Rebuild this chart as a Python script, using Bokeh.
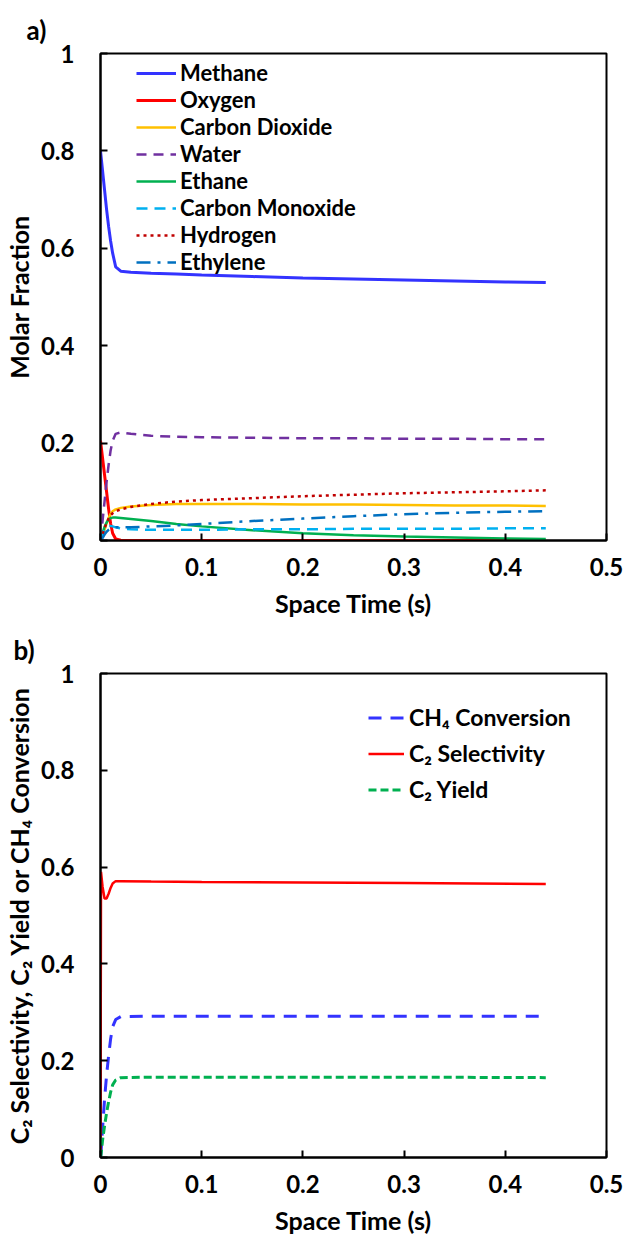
from bokeh.plotting import figure
from bokeh.models import Range1d, FixedTicker, Legend, LegendItem
from bokeh.layouts import column
from bokeh.embed import file_html
from bokeh.resources import INLINE

# ---------------- data ----------------
t_a = [0, 0.002, 0.004, 0.006, 0.008, 0.01, 0.012, 0.015, 0.02, 0.03, 0.05,
       0.075, 0.1, 0.15, 0.2, 0.25, 0.3, 0.35, 0.4, 0.44]
methane = [0.800, 0.76, 0.72, 0.68, 0.645, 0.615, 0.59, 0.562, 0.553, 0.551, 0.549,
           0.547, 0.545, 0.542, 0.539, 0.537, 0.535, 0.533, 0.531, 0.530]
oxygen = [0.205, 0.17, 0.135, 0.10, 0.065, 0.035, 0.015, 0.003, 0.0005, 0, 0,
          0, 0, 0, 0, 0, 0, 0, 0, 0]
co2 = [0, 0.01, 0.022, 0.035, 0.046, 0.055, 0.06, 0.064, 0.067, 0.070, 0.073,
       0.075, 0.075, 0.075, 0.074, 0.074, 0.073, 0.072, 0.072, 0.071]
water = [0, 0.04, 0.08, 0.12, 0.155, 0.185, 0.205, 0.219, 0.222, 0.219, 0.215,
         0.213, 0.212, 0.211, 0.210, 0.210, 0.209, 0.209, 0.208, 0.208]
ethane = [0, 0.015, 0.028, 0.037, 0.043, 0.046, 0.047, 0.047, 0.046, 0.044, 0.040,
          0.034, 0.029, 0.021, 0.015, 0.011, 0.008, 0.006, 0.004, 0.003]
co = [0, 0.012, 0.022, 0.028, 0.030, 0.030, 0.029, 0.027, 0.025, 0.023, 0.022,
      0.022, 0.022, 0.023, 0.023, 0.024, 0.024, 0.024, 0.025, 0.025]
hydrogen = [0, 0.012, 0.025, 0.036, 0.045, 0.052, 0.056, 0.060, 0.064, 0.069, 0.075,
            0.080, 0.083, 0.087, 0.091, 0.094, 0.097, 0.099, 0.101, 0.103]
ethylene = [0, 0.005, 0.012, 0.018, 0.022, 0.025, 0.026, 0.027, 0.027, 0.027, 0.029,
            0.031, 0.034, 0.040, 0.045, 0.050, 0.054, 0.057, 0.059, 0.060]

t_b = [0, 0.0005, 0.002, 0.004, 0.006, 0.008, 0.01, 0.012, 0.015, 0.02, 0.05,
       0.1, 0.2, 0.3, 0.44]
ch4_conv = [0, 0.01, 0.06, 0.12, 0.17, 0.21, 0.245, 0.27, 0.285, 0.291, 0.292,
            0.292, 0.292, 0.292, 0.292]
c2_sel = [0, 0.59, 0.56, 0.535, 0.535, 0.545, 0.557, 0.566, 0.571, 0.571, 0.570,
          0.569, 0.568, 0.567, 0.565]
c2_yield = [0, 0.005, 0.035, 0.065, 0.092, 0.115, 0.135, 0.15, 0.16, 0.165, 0.166,
            0.166, 0.166, 0.166, 0.165]

x_ticks = [0, 0.1, 0.2, 0.3, 0.4, 0.5]
x_tick_labels = ["0", "0.1", "0.2", "0.3", "0.4", "0.5"]
y_ticks = [0, 0.2, 0.4, 0.6, 0.8, 1.0]
y_tick_labels = ["0", "0.2", "0.4", "0.6", "0.8", "1"]

FONT = "Lato"


def base_fig(height, frame_h, left, right, ylabel, panel, offset):
    p = figure(width=626, height=height, output_backend="svg", toolbar_location=None,
               x_range=Range1d(0, 0.5), y_range=Range1d(0, 1),
               min_border_left=left, min_border_right=right, min_border_top=53,
               min_border_bottom=height - 53 - frame_h)
    p.title.text = panel
    p.title.align = "left"
    p.title.offset = offset
    p.title.text_font = FONT
    p.title.text_font_style = "bold"
    p.title.text_font_size = "26px"
    p.title.text_color = "black"
    p.title.standoff = 16
    p.xgrid.visible = False
    p.ygrid.visible = False
    p.outline_line_color = "black"
    p.outline_line_width = 2
    p.background_fill_color = "white"
    p.border_fill_color = "white"
    for ax, ticks, labels in ((p.xaxis[0], x_ticks, x_tick_labels),
                              (p.yaxis[0], y_ticks, y_tick_labels)):
        ax.ticker = FixedTicker(ticks=ticks)
        ax.major_label_overrides = {tv: tl for tv, tl in zip(ticks, labels)}
        ax.minor_tick_line_color = None
        ax.major_tick_in = 7
        ax.major_tick_out = 0
        ax.major_tick_line_width = 2
        ax.axis_line_width = 2
        ax.axis_line_color = "black"
        ax.major_label_text_font = FONT
        ax.major_label_text_font_style = "bold"
        ax.major_label_text_font_size = "24px"
        ax.major_label_text_color = "black"
        ax.axis_label_text_font = FONT
        ax.axis_label_text_font_style = "bold"
        ax.axis_label_text_font_size = "25px"
        ax.axis_label_text_color = "black"
    p.xaxis.major_label_standoff = 17
    p.yaxis.major_label_standoff = 26
    p.xaxis.axis_label = "Space Time (s)"
    p.yaxis.axis_label = ylabel
    p.xaxis.axis_label_standoff = 9
    p.yaxis.axis_label_standoff = 4
    return p


# ---------------- panel a ----------------
pa = base_fig(620, 487, 100, 19, "Molar Fraction", "a)", -74)
series_a = [
    ("Methane", methane, "#3333FF", "solid", 3),
    ("Oxygen", oxygen, "#FF0000", "solid", 3),
    ("Carbon Dioxide", co2, "#FFC000", "solid", 2.5),
    ("Water", water, "#7030A0", "10 7", 2.5),
    ("Ethane", ethane, "#00B050", "solid", 2.5),
    ("Carbon Monoxide", co, "#00B0F0", "11 7", 2.5),
    ("Hydrogen", hydrogen, "#C00000", "3 4", 2.5),
    ("Ethylene", ethylene, "#0070C0", "14 7 3 7", 2.5),
]
items_a = []
for name, ys, col, dash, w in series_a:
    r = pa.line(t_a, ys, line_color=col, line_width=w, line_dash=dash)
    items_a.append(LegendItem(label=name, renderers=[r]))
leg_a = Legend(items=items_a, location=(36, 265), background_fill_alpha=0,
               border_line_alpha=0, padding=0, margin=0, spacing=0,
               glyph_width=40, glyph_height=26, label_height=26, label_standoff=4,
               label_text_font=FONT, label_text_font_style="bold",
               label_text_font_size="22px", label_text_color="black")
pa.add_layout(leg_a, "center")

# ---------------- panel b ----------------
pb = base_fig(619, 484, 97, 20, "C\u2082 Selectivity, C\u2082 Yield or CH\u2084 Conversion",
              "b)", -87)
series_b = [
    ("CH\u2084 Conversion", t_b, ch4_conv, "#3333FF", "13 9", 3),
    ("C\u2082 Selectivity", t_b, c2_sel, "#FF0000", "solid", 2.5),
    ("C\u2082 Yield", t_b, c2_yield, "#00B050", "8 4", 3),
]
items_b = []
for name, xs, ys, col, dash, w in series_b:
    r = pb.line(xs, ys, line_color=col, line_width=w, line_dash=dash)
    items_b.append(LegendItem(label=name, renderers=[r]))
leg_b = Legend(items=items_b, location=(268, 354), background_fill_alpha=0,
               border_line_alpha=0, padding=0, margin=0, spacing=8,
               glyph_width=36, glyph_height=27, label_height=27, label_standoff=5,
               label_text_font=FONT, label_text_font_style="bold",
               label_text_font_size="23px", label_text_color="black")
pb.add_layout(leg_b, "center")

layout = column(pa, pb, spacing=0)
open("out.html", "w").write(file_html(layout, INLINE))
